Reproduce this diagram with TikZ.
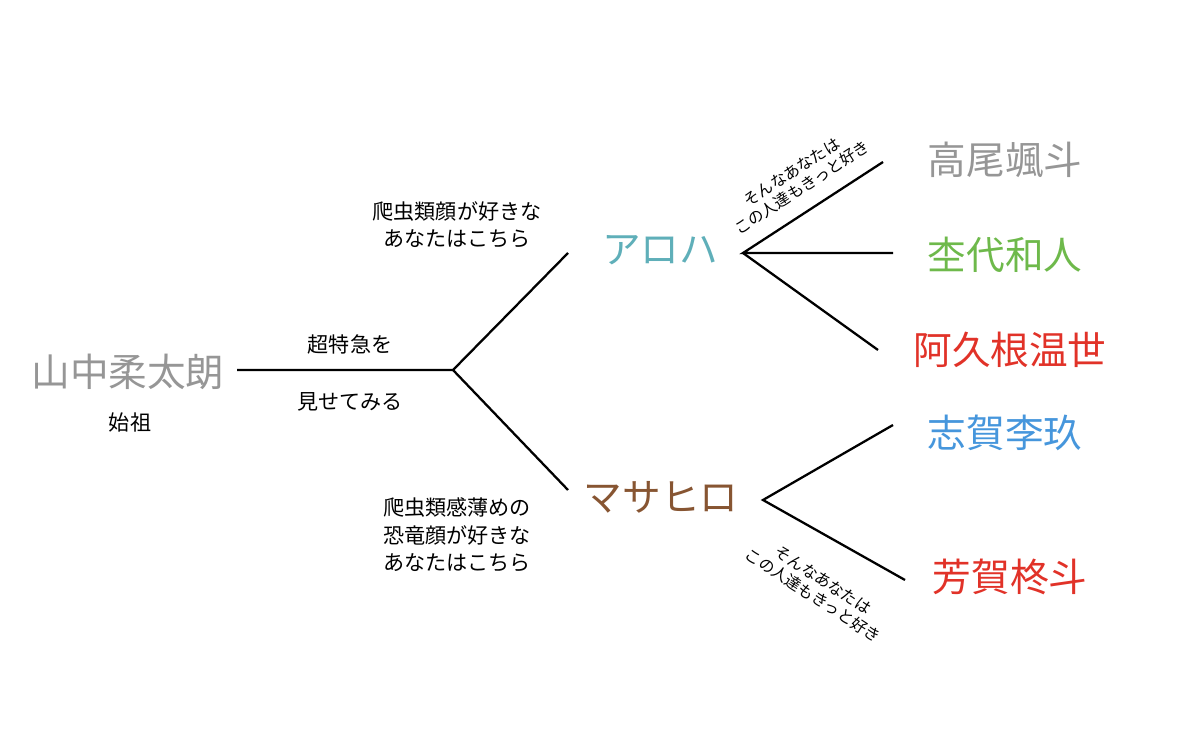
\documentclass[tikz,border=0pt]{standalone}
\usepackage{fontspec}
\setmainfont{Noto Sans CJK JP}
\definecolor{cgray}{RGB}{150,150,150}
\definecolor{cteal}{RGB}{95,175,185}
\definecolor{cbrown}{RGB}{135,85,50}
\definecolor{cgreen}{RGB}{110,185,75}
\definecolor{cred}{RGB}{225,50,40}
\definecolor{cblue}{RGB}{70,150,220}
\begin{document}
\begin{tikzpicture}[x=0.02cm,y=-0.02cm,
  big/.style={font=\fontsize{22}{24}\selectfont, inner sep=0pt},
  mid/.style={font=\fontsize{12}{15.5}\selectfont, align=center, inner sep=0pt},
  sm/.style={font=\fontsize{9}{10.5}\selectfont, align=center, inner sep=0pt},
  ln/.style={line width=1.3pt}]
\useasboundingbox (0,0) rectangle (1200,736);
\node[big,cgray] (root) at (128,372) {山中柔太朗};
\node[mid] (shiso) at (130,423) {始祖};
\coordinate (a0) at (237,370);
\coordinate (fork) at (453,370);
\coordinate (up) at (568,253);
\coordinate (dn) at (568,490);
\draw[ln] (a0) -- (fork) -- (up);
\draw[ln] (fork) -- (dn);
\node[mid] (t1) at (350,344) {超特急を};
\node[mid] (t2) at (350,402) {見せてみる};
\node[mid] (t3) at (457,225) {爬虫類顔が好きな\\あなたはこちら};
\node[mid] (t4) at (457,535) {爬虫類感薄めの\\恐竜顔が好きな\\あなたはこちら};
\node[big,cteal] (aloha) at (660,250) {アロハ};
\node[big,cbrown] (masa) at (661,497) {マサヒロ};
\coordinate (ao) at (743,253);
\coordinate (a1) at (883,162);
\coordinate (a2) at (893,253);
\coordinate (a3) at (878,350);
\draw[ln] (a1) -- (ao) -- (a2);
\draw[ln] (ao) -- (a3);
\coordinate (mo) at (763,500);
\coordinate (m1) at (893,425);
\coordinate (m2) at (905,580);
\draw[ln] (m1) -- (mo) -- (m2);
\node[sm,rotate=33] (s1) at (797,180) {そんなあなたは\\この人達もきっと好き};
\node[sm,rotate=-33] (s2) at (818,588) {そんなあなたは\\この人達もきっと好き};
\node[big,cgray] (n1) at (1005,160) {高尾颯斗};
\node[big,cgreen] (n2) at (1005,255) {杢代和人};
\node[big,cred] (n3) at (1010,350) {阿久根温世};
\node[big,cblue] (n4) at (1005,433) {志賀李玖};
\node[big,cred] (n5) at (1010,577) {芳賀柊斗};
\end{tikzpicture}
\end{document}
